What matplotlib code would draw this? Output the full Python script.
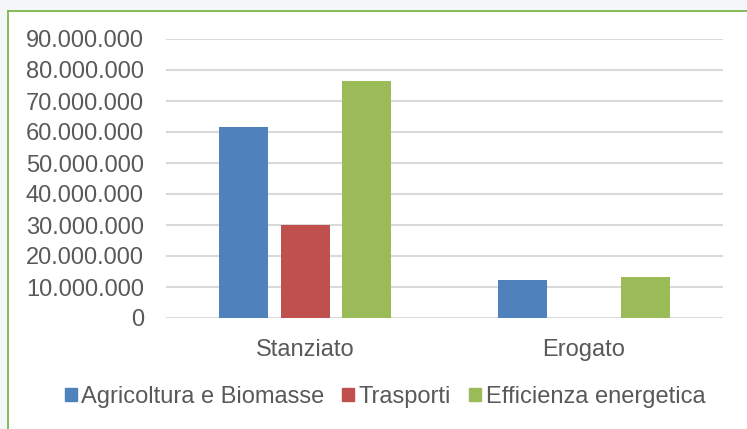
import matplotlib.pyplot as plt
from matplotlib.patches import Rectangle
from matplotlib.lines import Line2D
from matplotlib.ticker import FuncFormatter
import numpy as np

categories = ["Stanziato", "Erogato"]
series_names = ["Agricoltura e Biomasse", "Trasporti", "Efficienza energetica"]
agricoltura = [61700000, 12400000]
trasporti = [30100000, 0]
efficienza = [76600000, 13100000]
colors = ["#4f81bd", "#c0504d", "#9bbb59"]

plt.rcParams['font.family'] = ['Liberation Sans', 'DejaVu Sans']

fig = plt.figure(figsize=(7.47, 4.29), dpi=100)
fig.patch.set_facecolor("#f3f7f9")
# white card with green border on top and left
fig.patches.append(Rectangle((8 / 747, 0), 1, 1 - 10 / 429, transform=fig.transFigure,
                             facecolor="white", edgecolor="none", zorder=-5))
fig.lines.append(Line2D([7.5 / 747, 1], [1 - 10.5 / 429, 1 - 10.5 / 429], transform=fig.transFigure,
                        color="#7ab648", linewidth=1.3, zorder=-4))
fig.lines.append(Line2D([7.5 / 747, 7.5 / 747], [0, 1 - 10.5 / 429], transform=fig.transFigure,
                        color="#7ab648", linewidth=1.3, zorder=-4))

ax = fig.add_axes([166 / 747, 1 - 318 / 429, (723 - 166) / 747, (318 - 39) / 429])
ax.patch.set_alpha(0)

x = np.arange(len(categories))
w = 0.175
off = 0.221
for i, (vals, name) in enumerate(zip([agricoltura, trasporti, efficienza], series_names)):
    ax.bar(x + (i - 1) * off, vals, width=w, color=colors[i], label=name, zorder=3)

ax.set_xlim(-0.5, 1.5)
ax.set_ylim(0, 90000000)
ax.set_yticks(np.arange(0, 90000001, 10000000))
ax.yaxis.set_major_formatter(FuncFormatter(lambda v, p: f"{int(v):,}".replace(",", ".")))
ax.set_xticks(x)
ax.set_xticklabels(categories)
ax.grid(axis="y", color="#d9d9d9", linewidth=1.5, zorder=0)
for s in ax.spines.values():
    s.set_visible(False)
ax.tick_params(length=0, labelsize=17, colors="#595959")
ax.tick_params(axis="y", pad=16)
ax.tick_params(axis="x", pad=15)

handles = [Rectangle((0, 0), 1, 1, color=c) for c in colors]
fig.legend(handles, series_names, loc="center", bbox_to_anchor=(385 / 747, 1 - 397 / 429),
           ncol=3, frameon=False, fontsize=17, handlelength=0.5, handleheight=0.5,
           handletextpad=0.2, columnspacing=0.75, labelcolor="#595959")

fig.savefig("out.png", dpi=100, facecolor=fig.get_facecolor())
